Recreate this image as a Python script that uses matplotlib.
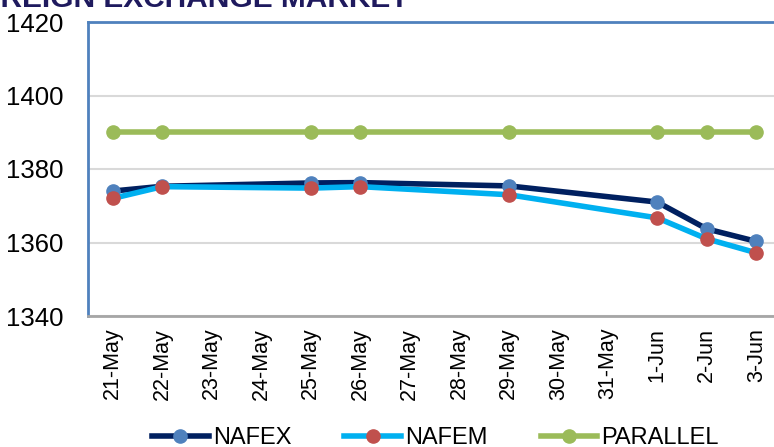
import matplotlib.pyplot as plt
import numpy as np

plt.rcParams['font.family'] = ['Liberation Sans', 'DejaVu Sans']

# category axis (every calendar day shown)
days = ['21-May', '22-May', '23-May', '24-May', '25-May', '26-May', '27-May',
        '28-May', '29-May', '30-May', '31-May', '1-Jun', '2-Jun', '3-Jun']
# days with observations
obs_days = ['21-May', '22-May', '25-May', '26-May', '29-May', '1-Jun', '2-Jun', '3-Jun']
nafex = [1374.0, 1375.3, 1376.2, 1376.3, 1375.4, 1371.0, 1363.7, 1360.3]
nafem = [1372.0, 1375.2, 1374.8, 1375.2, 1373.0, 1366.7, 1361.0, 1357.2]
parallel = [1390, 1390, 1390, 1390, 1390, 1390, 1390, 1390]
yticks = [1340, 1360, 1380, 1400, 1420]

xpos = [days.index(d) for d in obs_days]

fig = plt.figure(figsize=(7.74, 4.47), dpi=100)
ax = fig.add_axes([88 / 774, 1 - 316 / 447, 693 / 774, 294 / 447])

ax.plot(xpos, nafex, color='#002060', lw=4, marker='o', ms=9.5,
        mfc='#4F81BD', mec='#4F81BD', label='NAFEX', zorder=3)
ax.plot(xpos, nafem, color='#00B0F0', lw=4, marker='o', ms=9.5,
        mfc='#C0504D', mec='#C0504D', label='NAFEM', zorder=4)
ax.plot(xpos, parallel, color='#9BBB59', lw=4, marker='o', ms=9.5,
        mfc='#9BBB59', mec='#9BBB59', label='PARALLEL', zorder=3)

ax.set_xlim(-0.5, len(days) - 0.5)
ax.set_ylim(1340, 1420)
ax.set_yticks(yticks)
ax.set_yticklabels([str(v) for v in yticks], fontsize=18.5)
ax.set_xticks(range(len(days)))
ax.set_xticklabels(days, rotation=90, fontsize=15.5)
ax.tick_params(axis='both', length=0)
ax.tick_params(axis='y', pad=18)
ax.tick_params(axis='x', pad=8.5)

ax.grid(axis='y', color='#D9D9D9', lw=1.5)
ax.set_axisbelow(True)
ax.spines['left'].set_color('#4F81BD')
ax.spines['left'].set_linewidth(2)
ax.spines['top'].set_color('#4F81BD')
ax.spines['top'].set_linewidth(2)
ax.spines['right'].set_visible(False)
ax.spines['bottom'].set_color('#A6A6A6')
ax.spines['bottom'].set_linewidth(2)

fig.legend(loc='center left', bbox_to_anchor=(152 / 774, 1 - 438 / 447), ncol=3,
           frameon=False, fontsize=17, handlelength=2.4, handletextpad=0.17,
           columnspacing=2.25, borderaxespad=0, borderpad=0)

fig.text(-0.053, 1 - 7 / 447, 'FOREIGN EXCHANGE MARKET', fontsize=21.5, fontweight='bold',
         color='#1F1A5E', va='baseline', ha='left')

fig.savefig('out.png', dpi=100)
